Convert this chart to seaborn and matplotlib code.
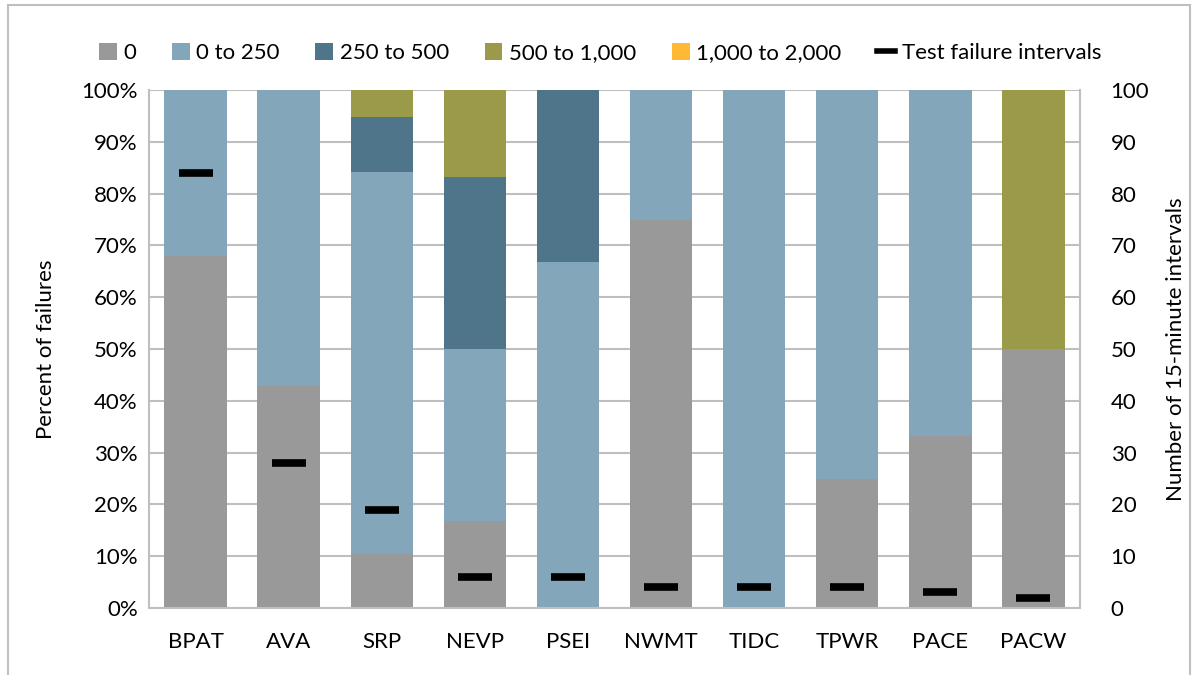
import numpy as np
import pandas as pd
import matplotlib.pyplot as plt
import seaborn as sns
from matplotlib.patches import Patch, Rectangle
from matplotlib.lines import Line2D
from matplotlib.ticker import PercentFormatter, MultipleLocator

areas = ["BPAT", "AVA", "SRP", "NEVP", "PSEI", "NWMT", "TIDC", "TPWR", "PACE", "PACW"]
series = ["0", "0 to 250", "250 to 500", "500 to 1,000", "1,000 to 2,000"]
colors = ["#999999", "#84A6BA", "#4F758B", "#9A9A48", "#FFB935"]

# share of failures in each bin (fractions)
s_0 = [0.68, 0.429, 0.105, 0.167, 0.0, 0.75, 0.0, 0.25, 0.333, 0.50]
s_0_250 = [0.32, 0.571, 0.737, 0.333, 0.667, 0.25, 1.0, 0.75, 0.667, 0.0]
s_250_500 = [0.0, 0.0, 0.105, 0.333, 0.333, 0.0, 0.0, 0.0, 0.0, 0.0]
s_500_1000 = [0.0, 0.0, 0.053, 0.167, 0.0, 0.0, 0.0, 0.0, 0.0, 0.50]
s_1000_2000 = [0.0, 0.0, 0.0, 0.0, 0.0, 0.0, 0.0, 0.0, 0.0, 0.0]

# number of 15-minute test failure intervals
intervals = [84, 28, 19, 6, 6, 4, 4, 4, 3, 2]

plt.rcParams["font.family"] = ["Lato", "DejaVu Sans"]
fs = 16

fig = plt.figure(figsize=(12, 6.75), dpi=100)
ax = fig.add_axes([149 / 1200, 1 - 608 / 675, (1080 - 149) / 1200, (608 - 90) / 675])

vals = np.array([s_0, s_0_250, s_250_500, s_500_1000, s_1000_2000])
cum = np.cumsum(vals, axis=0)

# draw tallest stack first so lower segments sit on top
for i in range(len(series) - 1, -1, -1):
    df = pd.DataFrame({"area": areas, "value": cum[i]})
    sns.barplot(data=df, x="area", y="value", color=colors[i], saturation=1,
                width=0.67, ax=ax, order=areas, zorder=2)

ax.set_ylim(0, 1)
ax.set_xlim(-0.5, len(areas) - 0.5)
ax.yaxis.set_major_locator(MultipleLocator(0.1))
ax.yaxis.set_major_formatter(PercentFormatter(1.0, decimals=0))
ax.grid(axis="y", color="#BFBFBF", lw=1.5, zorder=0)
ax.set_axisbelow(True)
for side in ["left", "right", "bottom"]:
    ax.spines[side].set_color("#BFBFBF")
    ax.spines[side].set_linewidth(1.5)
ax.spines["top"].set_visible(False)
ax.tick_params(length=0, labelsize=fs, pad=8)
ax.tick_params(axis="x", pad=17)
ax.set_xlabel("")
ax.set_ylabel("Percent of failures", fontsize=fs, labelpad=18)

ax2 = ax.twinx()
ax2.plot(np.arange(len(areas)), intervals, ls="none", marker="_", ms=24,
         mew=5.5, color="black", zorder=5)
ax2.set_ylim(0, 100)
ax2.yaxis.set_major_locator(MultipleLocator(10))
ax2.tick_params(length=0, labelsize=fs, pad=22)
ax2.set_ylabel("Number of 15-minute intervals", fontsize=fs, labelpad=12)
for s in ax2.spines.values():
    s.set_visible(False)

handles = [Patch(facecolor=c, label=s) for c, s in zip(colors, series)]
handles.append(Line2D([], [], color="black", lw=4, label="Test failure intervals"))
fig.legend(handles=handles, loc="center", bbox_to_anchor=(0.5, 1 - 53 / 675),
           ncol=6, frameon=False, fontsize=fs, handlelength=0.8, handleheight=0.8,
           handletextpad=0.3, columnspacing=1.6)

fig.patches.append(Rectangle((8 / 1200, -0.05), (1190 - 8) / 1200, 1.05 - 5 / 675,
                             transform=fig.transFigure, fill=False,
                             edgecolor="#BFBFBF", lw=1.5))

fig.savefig("out.png", dpi=100)
